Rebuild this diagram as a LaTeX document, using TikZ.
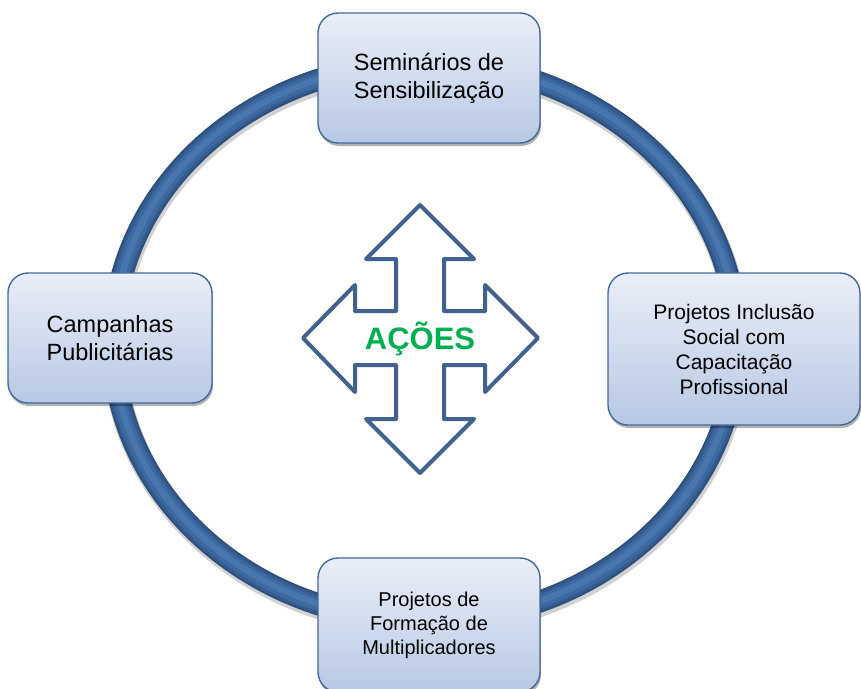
\documentclass[tikz,border=0pt]{standalone}
\usepackage{fontspec}
\setmainfont{Liberation Sans}
\usetikzlibrary{shadows}
\definecolor{aneltom}{HTML}{2C4F7E}
\definecolor{anel}{HTML}{3D69A0}
\definecolor{anelclaro}{HTML}{4877B0}
\definecolor{borda}{HTML}{43689B}
\definecolor{caixatopo}{HTML}{EAEFF8}
\definecolor{caixabase}{HTML}{B7C8E3}
\definecolor{cruzcor}{HTML}{41628E}
\definecolor{verdeacoes}{HTML}{00B050}

\begin{document}
\begin{tikzpicture}[x=1pt,y=-1pt,
  acao/.style={draw=borda, line width=1.4pt, rectangle, rounded corners=20pt,
    top color=caixatopo, bottom color=caixabase, align=center, inner sep=0pt,
    drop shadow={shadow xshift=1pt, shadow yshift=-3pt, opacity=0.3, fill=black}},
  cruz/.style={draw=cruzcor, line width=4pt, line join=round, fill=white}]
\useasboundingbox (0,0) rectangle (861,688);
% anel
\draw[line width=24pt, black!18] (426,345) ellipse [x radius=312pt, y radius=279pt];
\draw[line width=22pt, aneltom] (425,342) ellipse [x radius=312pt, y radius=279pt];
\draw[line width=18pt, aneltom!50!anel] (425,342) ellipse [x radius=312pt, y radius=279pt];
\draw[line width=13pt, anel] (425,342) ellipse [x radius=312pt, y radius=279pt];
\draw[line width=6pt, anelclaro] (425,341.5) ellipse [x radius=312pt, y radius=279pt];
% caixas
\node[acao, minimum width=222pt, minimum height=130pt, font=\fontsize{23.5}{28}\selectfont] (Sem) at (429,78) {Seminários de\\Sensibilização};
\node[acao, minimum width=252pt, minimum height=152pt, font=\fontsize{21}{25}\selectfont] (PIS) at (734,349) {Projetos Inclusão\\Social com\\Capacitação\\Profissional};
\node[acao, minimum width=222pt, minimum height=134pt, font=\fontsize{20}{24}\selectfont] (PFM) at (429,625) {Projetos de\\Formação de\\Multiplicadores};
\node[acao, minimum width=204pt, minimum height=130pt, font=\fontsize{23.5}{28}\selectfont] (Camp) at (110,338) {Campanhas\\Publicitárias};
% cruz de setas
\draw[cruz] (420,205) -- (474,259) -- (444,259) -- (444,311) -- (485,311) -- (485,285)
  -- (538,338) -- (485,392) -- (485,365) -- (444,365) -- (444,419) -- (474,419)
  -- (420,473) -- (366,419) -- (396,419) -- (396,365) -- (355,365) -- (355,392)
  -- (303,338) -- (355,285) -- (355,311) -- (396,311) -- (396,259) -- (366,259) -- cycle;
\node[font=\fontsize{31}{36}\selectfont\bfseries, text=verdeacoes] (Acoes) at (420,339) {AÇÕES};
\end{tikzpicture}
\end{document}
